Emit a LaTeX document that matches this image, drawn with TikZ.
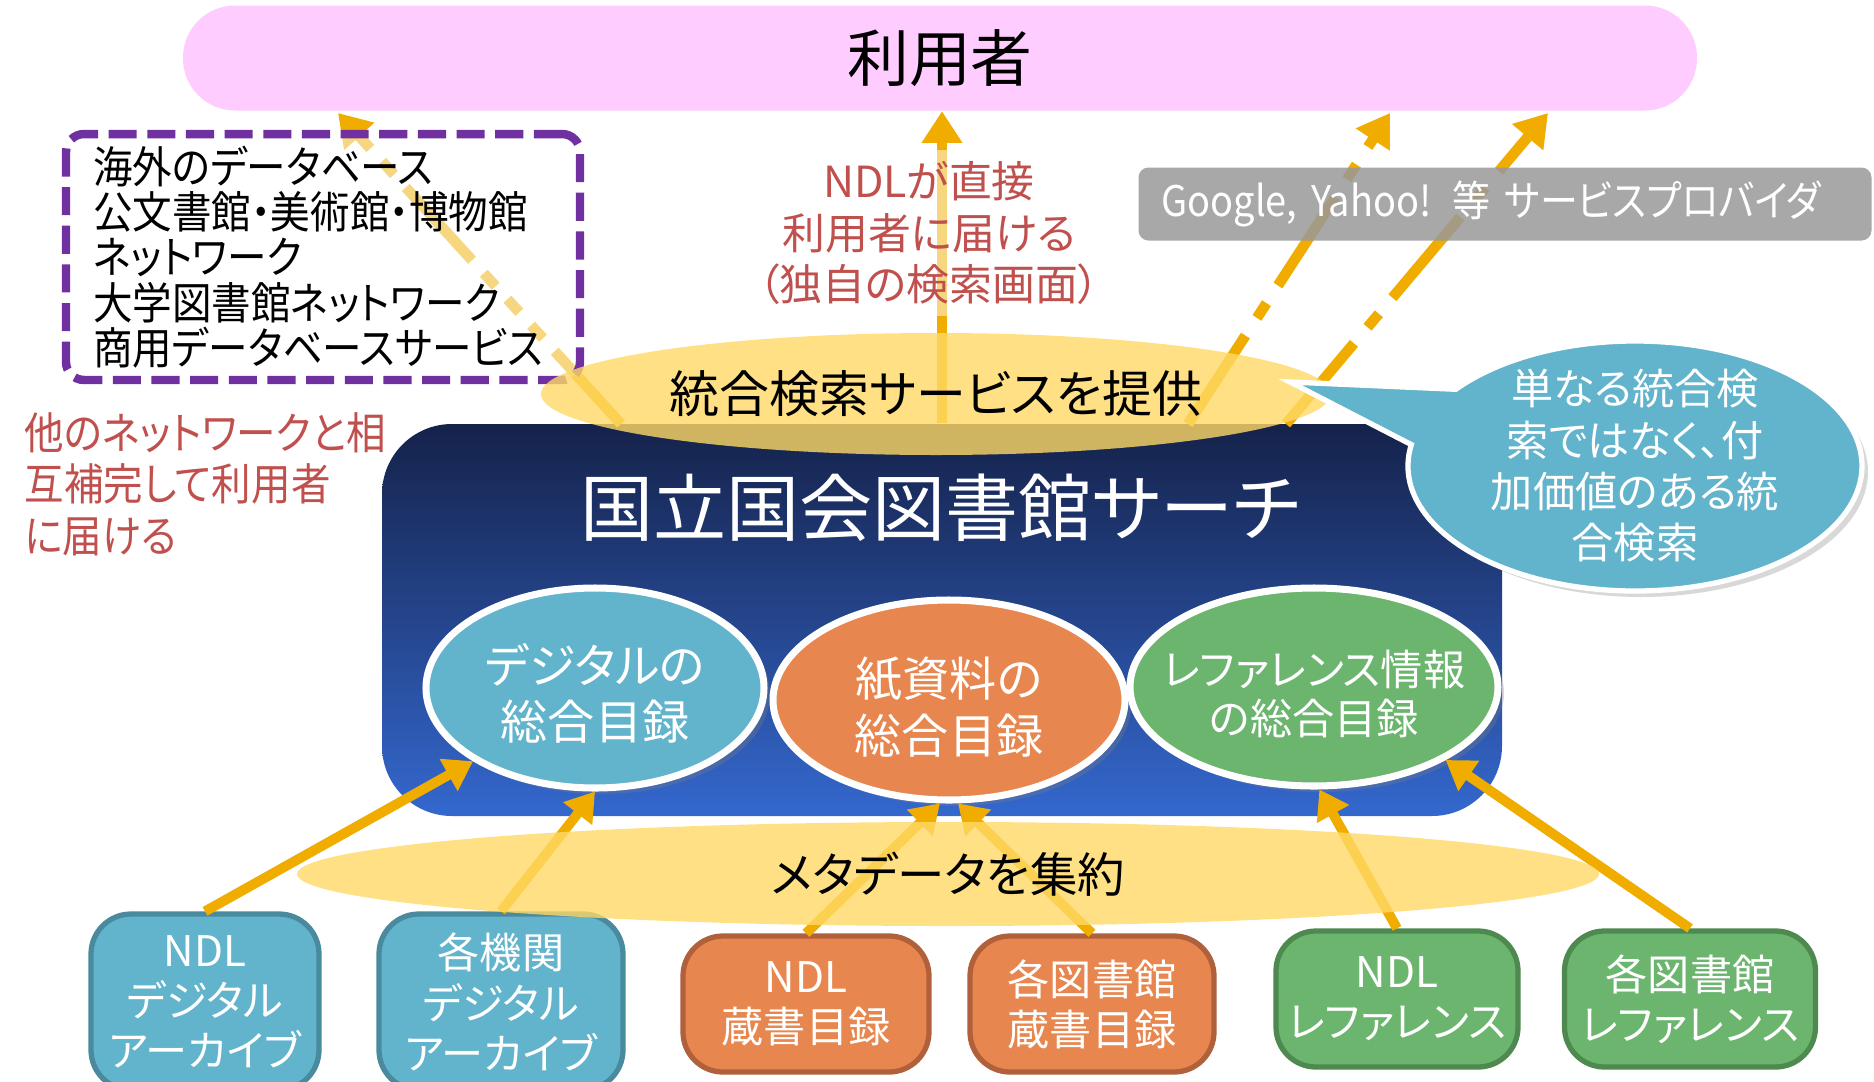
\documentclass[tikz,border=0pt]{standalone}
\usepackage{fontspec}
\setmainfont{Noto Sans CJK JP}[RawFeature=+palt]
\newfontfamily\narrowjp{Noto Sans CJK JP}[RawFeature=+palt, FakeStretch=0.9]
\usetikzlibrary{arrows.meta,shapes.geometric,shapes.callouts,shadows}

\definecolor{userpink}{HTML}{FFCCFF}
\definecolor{linkpurple}{HTML}{7030A0}
\definecolor{notered}{HTML}{C0504D}
\definecolor{arrowgold}{HTML}{F0AD00}
\definecolor{hubyellow}{HTML}{FFD966}
\definecolor{navytop}{HTML}{15224A}
\definecolor{navybot}{HTML}{3468CE}
\definecolor{digblue}{HTML}{62B3CC}
\definecolor{digedge}{HTML}{4A8A9E}
\definecolor{paperorange}{HTML}{E8864F}
\definecolor{paperedge}{HTML}{B0603A}
\definecolor{refgreen}{HTML}{6BB56E}
\definecolor{refedge}{HTML}{4E8A50}
\definecolor{providergray}{HTML}{999999}

\tikzset{
	feed/.style={draw=arrowgold, line width=3pt, -{Triangle[length=9pt,width=11pt]}},
	gather/.style={draw=arrowgold, line width=2.8pt, -{Triangle[length=8pt,width=10pt]}},
	hub/.style={ellipse, fill=hubyellow, fill opacity=0.8, text opacity=1, inner sep=0pt},
	catalog/.style={ellipse, draw=white, line width=2pt, inner sep=0pt, minimum height=20mm, drop shadow={opacity=0.3, shadow xshift=0.6mm, shadow yshift=-0.6mm}},
	cattext/.style={text=white, align=center},
	srcbox/.style={rectangle, rounded corners=4mm, line width=1.5pt, text=white, align=center, font=\fontsize{12}{14.3}\selectfont},
	redtext/.style={text=notered, font=\fontsize{12.2}{14.6}\selectfont},
}

\begin{document}
\begin{tikzpicture}[x=0.1mm, y=-0.1mm]
	\fill[white] (0,0) rectangle (1874,1081);
	\useasboundingbox (0,0) rectangle (1874,1081);

	% Users
	\node[fill=userpink, rounded corners=5.2mm, minimum width=151.4mm, minimum height=10.5mm, font=\fontsize{17.6}{20}\selectfont] (users) at (940,58) {利用者};

	% NDL Search
	\node[top color=navytop, bottom color=navybot, rounded corners=7mm, minimum width=112mm, minimum height=39.2mm] (ndls) at (942,620) {};

	% Delivery to users
	\coordinate (lstart) at (621,424);
	\coordinate (lend) at (338,113);
	\coordinate (r1start) at (1188,424);
	\coordinate (r1end) at (1390,113);
	\coordinate (r2start) at (1286,424);
	\coordinate (r2end) at (1548,113);
	\draw[feed, dash pattern=on 28pt off 5pt on 5pt off 5pt on 5pt off 5pt on 5pt off 5pt] (lstart) -- (lend);
	\draw[feed] (ndls.north) -- (ndls.north |- users.south);
	\draw[feed, dash pattern=on 30pt off 6pt on 5pt off 6pt] (r1start) -- (r1end);
	\draw[feed, dash pattern=on 30pt off 6pt on 5pt off 6pt] (r2start) -- (r2end);

	% Other networks
	\node[draw=linkpurple, line width=2.4pt, dash pattern=on 8pt off 3pt, rounded corners=1.8mm, fill=white, fill opacity=0.5, text opacity=1, minimum width=51.4mm, minimum height=24.4mm, text width=46mm, align=left, font=\narrowjp\fontsize{12.5}{12.9}\selectfont] (others) at (323,257) {海外のデータベース\\公文書館・美術館・博物館\\ネットワーク\\大学図書館ネットワーク\\商用データベースサービス};
	\node[redtext, fill=white, fill opacity=0.5, text opacity=1, align=center] (direct) at (929,233) {NDLが直接\\利用者に届ける\\（独自の検索画面）};
	\node[fill=providergray, fill opacity=0.85, text opacity=1, text=white, rounded corners=1mm, minimum width=73.3mm, minimum height=7.3mm, text width=68.7mm, inner xsep=2.3mm, align=left, font=\narrowjp\fontsize{12}{14}\selectfont] (provider) at (1505,204) {Google, Yahoo! 等 サービスプロバイダ};

	% Union catalogs
	\node[catalog, fill=digblue, minimum width=33.8mm] (dig) at (595,688) {};
	\node[catalog, fill=paperorange, minimum width=35.2mm] (paper) at (949,700) {};
	\node[catalog, fill=refgreen, minimum width=36.8mm, minimum height=19.8mm] (ref) at (1314,687) {};
	\node[cattext, font=\fontsize{13.4}{16}\selectfont] at ([yshift=-0.5mm]dig.center) {デジタルの\\総合目録};
	\node[cattext, font=\fontsize{13.4}{16}\selectfont] at ([yshift=-0.7mm]paper.center) {紙資料の\\総合目録};
	\node[cattext, font=\fontsize{12}{14}\selectfont] at ([yshift=-0.7mm]ref.center) {レファレンス情報\\の総合目録};

	% Sources
	\node[srcbox, fill=digblue, draw=digedge, minimum width=22.8mm, minimum height=17.6mm] (ndldig) at (205,1002) {NDL\\デジタル\\アーカイブ};
	\node[srcbox, fill=digblue, draw=digedge, minimum width=24.4mm, minimum height=17.6mm] (instdig) at (501,1002) {各機関\\デジタル\\アーカイブ};
	\node[srcbox, fill=paperorange, draw=paperedge, minimum width=24.6mm, minimum height=13.6mm] (ndlbook) at (806,1004) {NDL\\蔵書目録};
	\node[srcbox, fill=paperorange, draw=paperedge, minimum width=24.4mm, minimum height=13.6mm] (libbook) at (1092,1004) {各図書館\\蔵書目録};
	\node[srcbox, fill=refgreen, draw=refedge, minimum width=24.2mm, minimum height=13.6mm] (ndlref) at (1397,999) {NDL\\レファレンス};
	\node[srcbox, fill=refgreen, draw=refedge, minimum width=25.1mm, minimum height=13.6mm] (libref) at (1690,999) {各図書館\\レファレンス};

	% Metadata aggregation
	\draw[gather] (ndldig.north) -- (dig.211);
	\draw[gather] (instdig.north) -- (dig.south);
	\draw[gather] (ndlbook.north) -- (paper.265);
	\draw[gather] (libbook.north) -- (paper.275);
	\draw[gather] (ndlref.north) -- (ref.273);
	\draw[gather] (libref.north) -- (ref.331);

	% Bands
	\node[hub, minimum width=79mm, minimum height=12.2mm, font=\fontsize{14.2}{17}\selectfont] (offer) at (936,394) {統合検索サービスを提供};
	\node[hub, minimum width=130.2mm, minimum height=10.4mm, font=\fontsize{13.5}{16}\selectfont] (meta) at (948,874) {メタデータを集約};

	\node[text=white, font=\fontsize{20.8}{24}\selectfont] (title) at (940,508) {国立国会図書館サーチ};

	% Callout
	\coordinate (tip) at (1290,382);
	\node[ellipse callout, callout absolute pointer={(tip)}, callout pointer arc=28, fill=digblue, draw=white, line width=1.5pt, minimum width=45.4mm, minimum height=25mm, inner sep=0pt, drop shadow={opacity=0.3, shadow xshift=0.6mm, shadow yshift=-0.6mm}] (note) at (1635,466) {};
	\node[text=white, align=center, font=\fontsize{12}{14.6}\selectfont] at (note.center) {単なる統合検\\索ではなく、付\\加価値のある統\\合検索};

	% Left remark
	\node[redtext, anchor=west, align=left, inner sep=0pt, font=\narrowjp\fontsize{12.5}{14.6}\selectfont] (mutual) at (24,484) {他のネットワークと相\\互補完して利用者\\に届ける};
\end{tikzpicture}
\end{document}
